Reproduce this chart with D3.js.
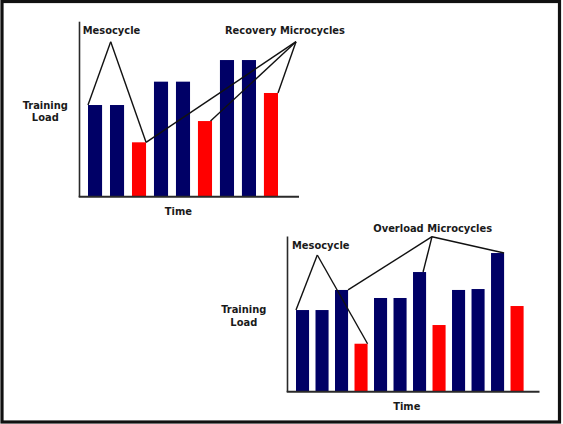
<!DOCTYPE html>
<html>
<head>
<meta charset="utf-8">
<script src="https://cdn.jsdelivr.net/npm/d3@7"></script>
<style>
  html, body { margin: 0; padding: 0; background: #fff; }
  svg { display: block; }
  text { font-family: "DejaVu Sans Condensed", "DejaVu Sans", Verdana, sans-serif; font-weight: bold; font-size: 11px; fill: #1a1a1a; }
</style>
</head>
<body>
<svg id="chart" width="563" height="424"></svg>
<script>
// ---- Data ----
// Top chart: recovery microcycles
const topCategories = ["W1", "W2", "W3", "W4", "W5", "W6", "W7", "W8", "W9"];
const topValues = [52.2, 52.2, 30.8, 65.6, 65.6, 43, 78, 78, 59.1];
const topTypes = ["load", "load", "recovery", "load", "load", "recovery", "load", "load", "recovery"];

// Bottom chart: overload microcycles
const bottomCategories = ["W1", "W2", "W3", "W4", "W5", "W6", "W7", "W8", "W9", "W10", "W11", "W12"];
const bottomValues = [52.4, 52.4, 65.4, 30.6, 60.2, 60.2, 77, 42.7, 65.4, 66, 89.3, 55];
const bottomTypes = ["load", "load", "load", "recovery", "load", "load", "load", "recovery", "load", "load", "load", "recovery"];

const labels = {
  yTitle: ["Training", "Load"],
  xTitle: "Time",
  meso: "Mesocycle",
  recovery: "Recovery Microcycles",
  overload: "Overload Microcycles"
};

const colors = { load: "#000066", recovery: "#ff0000" };

const svg = d3.select("#chart");

// Frame
svg.append("rect").attr("x", 2).attr("y", 1.5).attr("width", 557.5).attr("height", 420.5)
  .attr("fill", "none").attr("stroke", "#111").attr("stroke-width", 3.2);

function drawChart(cfg) {
  const g = svg.append("g");
  const x = d3.scaleBand().domain(cfg.categories).range(cfg.xRange)
    .paddingInner(cfg.pad).paddingOuter(0);
  const y = d3.scaleLinear().domain([0, 100]).range([cfg.base, cfg.top]);

  // bars
  g.selectAll("rect.bar").data(cfg.values).join("rect")
    .attr("class", "bar")
    .attr("x", (d, i) => x(cfg.categories[i]))
    .attr("width", x.bandwidth())
    .attr("y", d => y(d))
    .attr("height", d => y(0) - y(d))
    .attr("fill", (d, i) => colors[cfg.types[i]]);

  // axes
  const axisColor = "#2a2a2a";
  g.append("line").attr("x1", cfg.axisX).attr("x2", cfg.axisX)
    .attr("y1", y(100)).attr("y2", cfg.base + 1)
    .attr("stroke", axisColor).attr("stroke-width", 1.6);
  g.append("line").attr("x1", cfg.axisX - 0.8).attr("x2", cfg.axisEnd)
    .attr("y1", cfg.base + 0.8).attr("y2", cfg.base + 0.8)
    .attr("stroke", axisColor).attr("stroke-width", 2);

  // axis titles
  const yt = g.append("text").attr("text-anchor", "middle");
  yt.append("tspan").attr("x", cfg.yTitle[0]).attr("y", cfg.yTitle[1]).text(labels.yTitle[0]);
  yt.append("tspan").attr("x", cfg.yTitle[0]).attr("y", cfg.yTitle[1] + 12.8).text(labels.yTitle[1]);
  g.append("text").attr("text-anchor", "middle")
    .attr("x", cfg.xTitle[0]).attr("y", cfg.xTitle[1]).text(labels.xTitle);

  // annotations
  const corner = (i, side) => [
    x(cfg.categories[i]) + (side === "r" ? x.bandwidth() : 0),
    y(cfg.values[i])
  ];
  cfg.annotations.forEach(a => {
    g.append("text").attr("x", a.text[0]).attr("y", a.text[1]).text(a.label);
    a.targets.forEach(t => {
      const p = corner(t[0], t[1]);
      g.append("line").attr("x1", a.apex[0]).attr("y1", a.apex[1])
        .attr("x2", p[0] + (t[2] || 0)).attr("y2", p[1])
        .attr("stroke", "#111").attr("stroke-width", 1.4);
    });
  });
}

drawChart({
  categories: topCategories, values: topValues, types: topTypes,
  xRange: [88, 278], pad: 0.36, base: 196, top: 21.7,
  axisX: 79.5, axisEnd: 299,
  yTitle: [45.3, 108.5], xTitle: [178.4, 215],
  annotations: [
    { label: labels.meso, text: [82.7, 34], apex: [110.7, 41.7], targets: [[0, "l"], [2, "r"]] },
    { label: labels.recovery, text: [225, 34], apex: [296, 41.7], targets: [[2, "r"], [5, "r", -1.5], [8, "r"]] }
  ]
});

drawChart({
  categories: bottomCategories, values: bottomValues, types: bottomTypes,
  xRange: [296, 523.6], pad: 0.33, base: 391, top: 236.5,
  axisX: 287.5, axisEnd: 539.5,
  yTitle: [243.8, 313.3], xTitle: [406.8, 410],
  annotations: [
    { label: labels.meso, text: [292, 249], apex: [317.3, 255], targets: [[0, "l"], [3, "r"]] },
    { label: labels.overload, text: [373.3, 231.7], apex: [432, 236.7], targets: [[2, "r"], [6, "r", -3], [10, "r"]] }
  ]
});
</script>
</body>
</html>
